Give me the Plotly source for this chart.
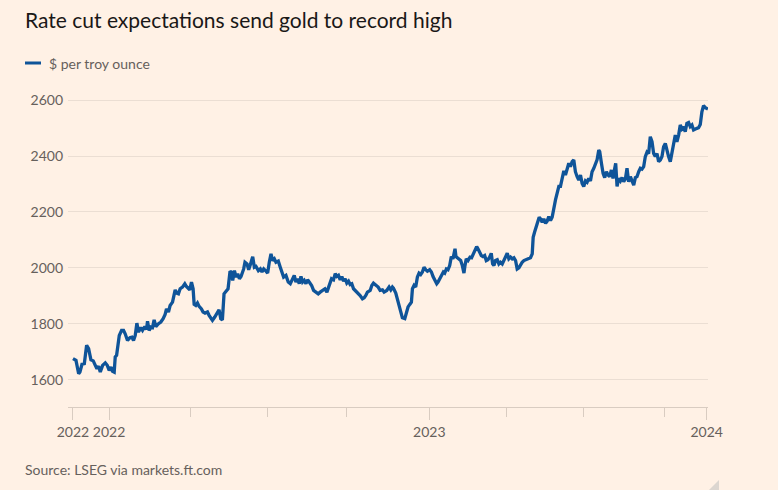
import pandas as pd
import plotly.graph_objects as go

# ---- data: gold price, $ per troy ounce ----
start_date = "2022-09-16"

days_a = [0, 1.6, 3.5, 6.6, 8.1, 10.5, 13.2, 15.9, 18.2, 20.9, 23.6, 26.0, 27.9, 29.8, 31.8,
          34.5, 37.6, 39.9, 42.2, 44.2, 46.1, 48.0, 49.2, 50.8, 51.9, 53.9, 56.6, 58.9, 60.8, 63.5,
          66.3, 68.6, 70.5, 72.5, 74.4, 76.3, 79.0, 81.0, 83.7, 85.6, 86.8, 88.7, 90.7, 92.6, 94.5,
          96.5, 99.6, 102.3, 105.0, 107.3, 108.9, 111.2, 113.1, 115.9, 119.0, 120.9, 122.8, 124.8,
          127.5, 130.2, 132.1, 134.5, 136.0, 138.0, 139.9, 141.1, 143.0, 145.0, 146.9, 149.6, 151.5,
          153.8, 156.6, 158.5, 162.4, 165.1, 168.2, 170.1, 172.1, 174.0, 175.9, 177.9, 180.6, 182.9]
price_a = [1675, 1673, 1669, 1621, 1627, 1655, 1657, 1723, 1711, 1671, 1667, 1651, 1639, 1648, 1627,
           1651, 1660, 1651, 1633, 1645, 1630, 1627, 1681, 1687, 1711, 1758, 1776, 1776, 1764, 1740,
           1750, 1752, 1740, 1758, 1802, 1770, 1786, 1776, 1790, 1779, 1809, 1776, 1788, 1786, 1814,
           1790, 1800, 1806, 1818, 1833, 1853, 1842, 1865, 1877, 1921, 1909, 1907, 1925, 1931, 1943,
           1933, 1925, 1921, 1949, 1925, 1869, 1865, 1874, 1862, 1853, 1842, 1838, 1842, 1830, 1812,
           1824, 1842, 1850, 1818, 1814, 1907, 1917, 1925, 1988]

days_b = [184.1, 186.0, 188.0, 189.9, 191.8, 193.8, 195.7, 198.8, 200.3, 202.7, 204.6, 206.6, 209.3,
          211.2, 213.1, 215.9, 218.2, 220.1, 222.1, 224.8, 226.7, 228.6, 230.6, 232.5, 234.5, 236.4,
          239.1, 241.4, 243.4, 245.3, 248.0, 250.7, 253.1, 255.8, 257.7, 259.6, 261.6, 263.5, 265.5,
          267.4, 269.3, 271.3, 273.2, 275.1, 277.9, 280.2, 282.9, 285.6, 287.9, 290.6, 293.4, 295.7,
          298.4, 301.1, 303.4, 305.4, 307.3, 309.2, 311.2, 313.1, 315.1, 317.0, 318.9, 320.9, 322.8,
          324.7, 326.7, 329.4, 332.1, 334.4, 337.1, 339.1, 341.0, 342.9, 346.1, 348.0, 349.9, 352.6,
          355.4, 357.7, 360.4, 362.3, 365.4, 368.1, 370.1, 372.0]
price_b = [1985, 1955, 1990, 1967, 1979, 1961, 1969, 1996, 2020, 2014, 1993, 2012, 2040, 2002, 2005,
           1990, 1996, 1985, 1996, 1988, 1981, 2020, 2050, 2026, 2032, 2020, 2024, 2002, 1979, 1967,
           1973, 1949, 1943, 1961, 1973, 1949, 1961, 1943, 1969, 1949, 1955, 1943, 1957, 1949, 1937,
           1919, 1913, 1907, 1913, 1919, 1925, 1913, 1937, 1961, 1957, 1979, 1969, 1973, 1957, 1969,
           1952, 1961, 1945, 1952, 1940, 1943, 1925, 1917, 1910, 1901, 1889, 1893, 1901, 1913, 1919,
           1937, 1945, 1937, 1931, 1919, 1921, 1913, 1919, 1931, 1921, 1931]

days_c = [373.2, 375.9, 377.8, 379.8, 381.7, 383.6, 386.4, 388.3, 390.2, 392.2, 394.1, 395.3, 397.2,
          399.1, 401.1, 403.0, 404.9, 406.9, 408.8, 410.8, 412.7, 415.4, 417.4, 419.3, 421.2, 423.6,
          425.1, 427.0, 429.0, 431.3, 432.9, 434.8, 436.7, 438.7, 440.6, 442.5, 444.9, 446.0, 447.6,
          449.5, 451.5, 453.4, 455.3, 456.5, 458.0, 460.0, 462.3, 464.2, 466.2, 468.1, 470.1, 471.6,
          473.5, 475.5, 477.4, 479.4, 481.3, 483.2, 485.2, 487.1, 488.7, 490.2, 492.1, 494.1, 496.0,
          497.9, 499.9, 501.8, 503.8, 505.7, 507.6, 509.6, 511.5, 513.5, 515.4, 517.3, 519.3, 521.2,
          523.1, 525.1, 527.0, 529.0, 530.9, 532.8, 534.8, 535.9, 537.5, 539.4, 541.4, 542.9, 544.5,
          546.4, 548.3, 550.3, 552.2, 554.1, 556.1, 558.0]
price_c = [1927, 1910, 1889, 1860, 1836, 1821, 1818, 1836, 1860, 1869, 1877, 1925, 1937, 1931, 1967,
           1981, 1976, 1985, 2002, 1993, 1988, 1993, 1985, 1969, 1955, 1943, 1949, 1961, 1973, 1985,
           1981, 1996, 1993, 2008, 2040, 2032, 2068, 2040, 2036, 2029, 2026, 2008, 1981, 2008, 2032,
           2026, 2038, 2036, 2050, 2064, 2076, 2068, 2056, 2044, 2040, 2044, 2026, 2029, 2038, 2052,
           2014, 2008, 2026, 2029, 2014, 2020, 2014, 2026, 2036, 2052, 2032, 2038, 2032, 2036, 2026,
           1996, 2000, 2012, 2020, 2026, 2029, 2032, 2036, 2036, 2050, 2109, 2127, 2148, 2167, 2181,
           2175, 2163, 2175, 2159, 2167, 2183, 2169, 2181]

days_d = [561.9, 563.8, 565.8, 567.7, 569.6, 571.6, 573.5, 575.5, 577.4, 579.3, 581.3, 583.2, 585.1,
          587.1, 589.0, 591.0, 592.9, 594.8, 596.8, 598.7, 600.6, 602.6, 604.5, 606.5, 608.4, 610.3,
          612.3, 613.4, 615.4, 617.3, 619.2, 621.2, 623.1, 625.0, 627.0, 628.9, 630.9, 632.0, 633.6,
          635.5, 637.5, 639.4, 641.3, 643.3, 645.2, 647.1, 649.1, 651.0, 653.0, 654.9, 656.8, 658.8,
          660.7, 662.6, 664.6, 666.5, 668.5, 670.4, 672.3, 674.3, 676.2, 678.1, 680.1, 682.0, 684.0,
          685.9, 687.8, 689.8, 691.7, 693.6, 695.6, 697.5, 699.5, 701.4, 703.3, 705.3, 707.2, 709.1,
          711.1, 713.0, 714.9, 716.9, 718.8, 720.8, 722.7, 724.6, 726.6, 728.5, 730.5, 732.4, 734.3,
          736.3, 738.2, 739.4]
price_d = [2243, 2273, 2291, 2291, 2320, 2347, 2332, 2350, 2374, 2362, 2380, 2386, 2344, 2326, 2314,
           2332, 2302, 2291, 2311, 2306, 2320, 2311, 2344, 2356, 2368, 2386, 2421, 2416, 2374, 2338,
           2323, 2344, 2332, 2326, 2350, 2320, 2356, 2374, 2291, 2320, 2311, 2323, 2308, 2318, 2356,
           2308, 2326, 2314, 2296, 2323, 2326, 2344, 2356, 2353, 2362, 2398, 2414, 2409, 2469, 2451,
           2409, 2398, 2409, 2380, 2386, 2398, 2433, 2445, 2416, 2398, 2380, 2416, 2445, 2475, 2451,
           2475, 2511, 2497, 2505, 2487, 2517, 2520, 2505, 2511, 2493, 2497, 2499, 2501, 2513, 2558,
           2580, 2573, 2570, 2568]

# axis ticks
y_ticks = [1600, 1800, 2000, 2200, 2400, 2600]
x_major_ticks = ["2022-09-16", "2022-10-28", "2023-11-05", "2024-09-23"]
x_major_labels = ["2022", "2022", "2023", "2024"]
x_minor_ticks = ["2023-01-31", "2023-04-30", "2023-08-01", "2024-02-03", "2024-05-03", "2024-08-05"]
x_range = ["2022-09-10 04:48", "2024-09-24 12:00"]
y_range = [1502, 2629]

title_text = "Rate cut expectations send gold to record high"
series_name = "$ per troy ounce"
source_text = "Source: LSEG via markets.ft.com"

# ---- build ----
days = days_a + days_b + days_c + days_d
price = price_a + price_b + price_c + price_d
dates = pd.Timestamp(start_date) + pd.to_timedelta(days, unit="D")

BG = "#FFF1E5"
BLUE = "#0F5499"
GREY = "#66605C"
FONT = "Lato, 'Open Sans', sans-serif"

fig = go.Figure()
fig.add_trace(go.Scatter(
    x=dates, y=price, mode="lines", name=series_name,
    line=dict(color=BLUE, width=3.3), showlegend=False,
    hovertemplate="%{x|%d %b %Y}: $%{y}<extra></extra>",
))

L, R, T, B = 68, 70, 92, 83
W, H = 778, 490
pw, ph = W - L - R, H - T - B


def px(xp):
    return (xp - L) / pw


def py(yp):
    return (H - B - yp) / ph


fig.update_layout(
    width=W, height=H,
    paper_bgcolor=BG, plot_bgcolor=BG,
    margin=dict(l=L, r=R, t=T, b=B, pad=0),
    font=dict(family=FONT, size=14, color=GREY),
    xaxis=dict(
        type="date", range=x_range, showgrid=False, zeroline=False,
        showline=True, linecolor="#D9CCC1", linewidth=1,
        tickmode="array", tickvals=x_major_ticks, ticktext=x_major_labels,
        ticks="outside", ticklen=12, tickwidth=1, tickcolor="#D9CCC1",
        tickfont=dict(size=14, color=GREY),
        minor=dict(tickmode="array", tickvals=x_minor_ticks, ticks="outside",
                   ticklen=9, tickwidth=1, tickcolor="#D9CCC1", showgrid=False),
        fixedrange=True,
    ),
    yaxis=dict(
        range=y_range, tickmode="array", tickvals=y_ticks,
        showgrid=True, gridcolor="#EBDED3", gridwidth=1, zeroline=False,
        showline=False, ticks="", tickfont=dict(size=14, color=GREY),
        ticklabelstandoff=4, fixedrange=True,
    ),
    annotations=[
        dict(text=title_text, xref="paper", yref="paper", x=px(23), y=py(20),
             xanchor="left", yanchor="middle", showarrow=False,
             font=dict(family=FONT, size=21, color="#1A1817")),
        dict(text=series_name, xref="paper", yref="paper", x=px(47), y=py(63),
             xanchor="left", yanchor="middle", showarrow=False,
             font=dict(family=FONT, size=14, color=GREY)),
        dict(text=source_text, xref="paper", yref="paper", x=px(23), y=py(469),
             xanchor="left", yanchor="middle", showarrow=False,
             font=dict(family=FONT, size=14, color=GREY)),
    ],
    shapes=[
        dict(type="line", xref="paper", yref="paper", x0=px(25), x1=px(41), y0=py(63), y1=py(63),
             line=dict(color=BLUE, width=3)),
        dict(type="path", xref="paper", yref="paper",
             path=f"M {px(709)} {py(490)} L {px(719)} {py(480)} L {px(719)} {py(490)} Z",
             fillcolor="#DCD6D0", line=dict(width=0)),
    ],
)

fig.write_html(
    "out.html",
    config={"displayModeBar": False},
    post_script="document.body.style.margin='0';document.body.style.background='" + BG + "';",
)
